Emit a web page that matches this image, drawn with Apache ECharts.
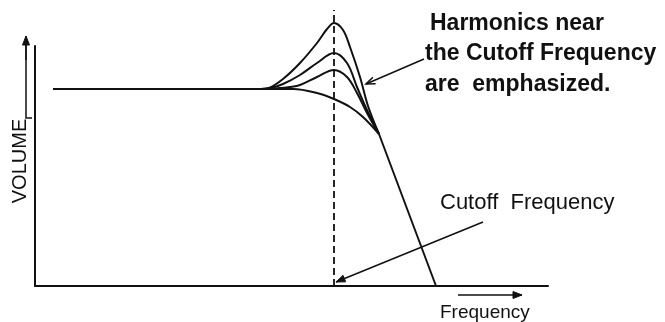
<!DOCTYPE html>
<html>
<head>
<meta charset="utf-8">
<script src="https://cdn.jsdelivr.net/npm/echarts@6/dist/echarts.min.js"></script>
<style>
  html, body { margin: 0; padding: 0; background: #fff; }
  #chart { width: 665px; height: 322px; }
</style>
</head>
<body>
<div id="chart"></div>
<script>
// values: frequency runs 0..513, volume 0..240 (axis length)
const passband = [[18, 197], [226, 197]]
const peakHigh = [[226, 197], [234, 198], [248, 207], [265, 223], [282, 243], [292, 257], [299, 263], [308, 256], [315, 239], [325, 209], [333, 180], [344, 152]]
const peakMid = [[226, 197], [236, 198], [248, 202], [265, 211], [282, 223], [299, 233], [312, 223], [322, 199], [332, 176], [344, 152]]
const peakLow = [[230, 197], [245, 198], [255, 199], [265, 201], [282, 209], [299, 216], [312, 209], [322, 193], [332, 173], [344, 152]]
const flatResponse = [[226, 197], [258, 197], [282, 193], [299, 187], [315, 179], [328, 169], [344, 152]]
const rolloff = [[344, 152], [401, 0]]
const cutoff = [[299, 0], [299, 276]]

const ink = '#111'
const font = '"Liberation Sans", Arial, Helvetica, sans-serif'

function curve(name, data, smooth) {
  return {
    name: name,
    type: 'line',
    data: data,
    smooth: smooth,
    showSymbol: false,
    clip: false,
    silent: true,
    lineStyle: { color: ink, width: 2 }
  }
}

// arrow as graphic: shaft plus a head at (x2, y2)
function arrow(x1, y1, x2, y2, open) {
  const len = 9, half = 3.5
  const a = Math.atan2(y2 - y1, x2 - x1)
  const bx = x2 - len * Math.cos(a), by = y2 - len * Math.sin(a)
  const p1 = [bx + half * Math.sin(a), by - half * Math.cos(a)]
  const p2 = [bx - half * Math.sin(a), by + half * Math.cos(a)]
  const out = [{
    type: 'line',
    shape: { x1: x1, y1: y1, x2: x2, y2: y2 },
    style: { stroke: ink, lineWidth: 1.5 }
  }]
  if (open) {
    out.push({ type: 'polyline', shape: { points: [p1, [x2, y2], p2] }, style: { stroke: ink, lineWidth: 1.5, fill: null } })
  } else {
    out.push({ type: 'polygon', shape: { points: [p1, [x2, y2], p2] }, style: { fill: ink, stroke: ink, lineWidth: 1 } })
  }
  return out
}

function label(text, x, y, size, weight) {
  return {
    type: 'text',
    x: x,
    y: y,
    style: {
      text: text,
      fontSize: size,
      fontFamily: font,
      fontWeight: weight || 'normal',
      fill: ink,
      verticalAlign: 'middle'
    }
  }
}

const chart = echarts.init(document.getElementById('chart'))

chart.setOption({
  animation: false,
  backgroundColor: '#fff',
  grid: { left: 35, right: 117, top: 46, bottom: 36 },
  xAxis: {
    type: 'value',
    min: 0,
    max: 513,
    axisLine: { show: true, lineStyle: { color: ink, width: 2 } },
    axisTick: { show: false },
    axisLabel: { show: false },
    splitLine: { show: false }
  },
  yAxis: {
    type: 'value',
    min: 0,
    max: 240,
    axisLine: { show: true, lineStyle: { color: ink, width: 2 } },
    axisTick: { show: false },
    axisLabel: { show: false },
    splitLine: { show: false }
  },
  series: [
    curve('passband', passband, false),
    curve('peakHigh', peakHigh, 0.35),
    curve('peakMid', peakMid, 0.35),
    curve('peakLow', peakLow, 0.35),
    curve('flat', flatResponse, 0.35),
    curve('rolloff', rolloff, false),
    {
      name: 'cutoff',
      type: 'line',
      data: cutoff,
      showSymbol: false,
      clip: false,
      silent: true,
      lineStyle: { color: ink, width: 1.8, type: [7, 4] }
    }
  ],
  graphic: [
    label('Harmonics near', 430, 24, 23, 'bold'),
    label('the Cutoff Frequency', 425, 54, 23, 'bold'),
    label('are  emphasized.', 425, 85, 23, 'bold'),
    label('Cutoff  Frequency', 440, 203, 22),
    label('Frequency', 440, 313, 19),
    {
      type: 'text',
      x: 20,
      y: 161,
      rotation: Math.PI / 2,
      style: {
        text: 'VOLUME',
        fontSize: 20,
        fontFamily: font,
        fill: ink,
        align: 'center',
        verticalAlign: 'middle'
      }
    },
    {
      type: 'polyline',
      shape: { points: [[32, 118], [26, 118], [26, 44]] },
      style: { stroke: ink, lineWidth: 1.5, fill: null }
    }
  ]
    .concat(arrow(26, 60, 26, 36, false))
    .concat(arrow(424, 59, 366, 84, true))
    .concat(arrow(483, 222, 336, 282, false))
    .concat(arrow(458, 295, 522, 295, false))
})
</script>
</body>
</html>
